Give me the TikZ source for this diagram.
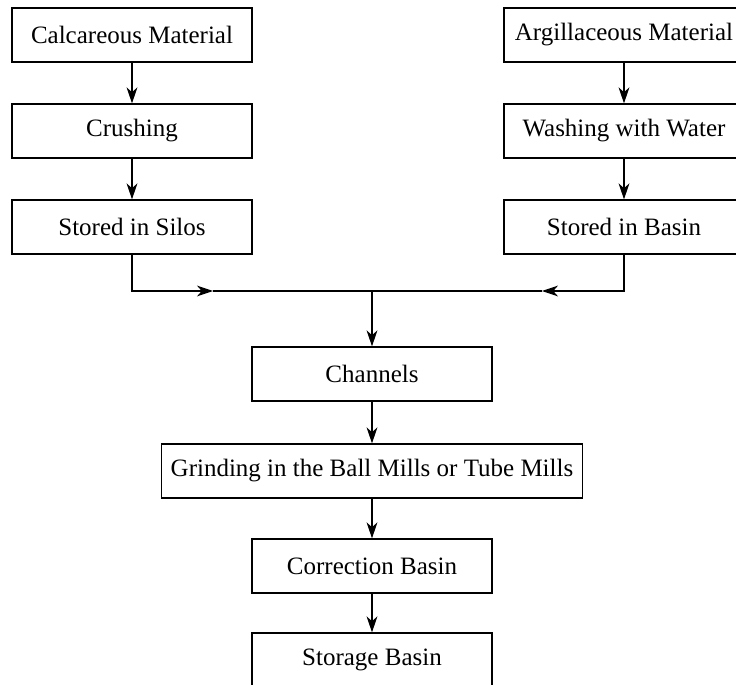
\documentclass[tikz,border=0pt]{standalone}
\usepackage{fontspec}
\setmainfont{Liberation Serif}
\usetikzlibrary{arrows.meta}

\tikzset{
    stepbox/.style={draw,semithick,rectangle,minimum width=120pt,minimum height=27pt,inner sep=0pt,font=\fontsize{12.5}{14}\selectfont},
    flow/.style={semithick,-{Stealth[length=8pt,width=5.4pt,inset=2.4pt]}}
}

\begin{document}
\begin{tikzpicture}[x=0.5pt,y=-0.5pt]
    \useasboundingbox(0,0)rectangle(736,685);
    \clip(0,0)rectangle(736,685);

    \node[stepbox](calc)at(132,35){Calcareous Material};
    \node[stepbox](crush)at(132,131){Crushing};
    \node[stepbox](silos)at(132,227){Stored in Silos};

    \node[stepbox](argil)at(624,35){Argillaceous Material};
    \node[stepbox](wash)at(624,131){Washing with Water};
    \node[stepbox](basin)at(624,227){Stored in Basin};

    \node[stepbox](chan)at(372,374){Channels};
    \node[stepbox,minimum width=210.5pt](grind)at(372,471){Grinding in the Ball Mills or Tube Mills};
    \node[stepbox](corr)at(372,566){Correction Basin};
    \node[stepbox](store)at(372,660){Storage Basin};

    \coordinate(join)at(372,291);
    \coordinate(tipL)at(213,291);
    \coordinate(tipR)at(542,291);

    \draw[flow](calc)--(crush);
    \draw[flow](crush)--(silos);
    \draw[flow](argil)--(wash);
    \draw[flow](wash)--(basin);

    \draw[flow](silos.south)|-(tipL);
    \draw[semithick](tipL)--(join);
    \draw[flow](basin.south)|-(tipR);
    \draw[semithick](tipR)--(join);

    \draw[flow](join)--(chan);
    \draw[flow](chan)--(grind);
    \draw[flow](grind)--(corr);
    \draw[flow](corr)--(store);
\end{tikzpicture}
\end{document}
